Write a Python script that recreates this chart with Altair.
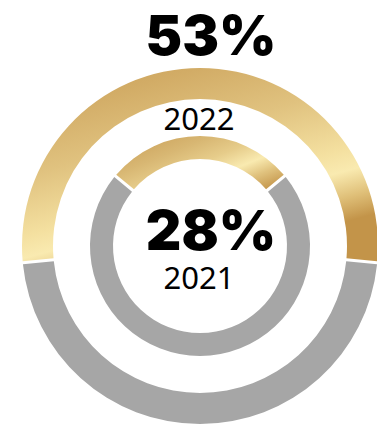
import math
import altair as alt
import pandas as pd

years = ["2022", "2021"]
shares = [53, 28]
share_labels = ["53%", "28%"]

rows = []
for yr, p in zip(years, shares):
    rows.append({"year": yr, "part": "share", "start": -p / 2, "end": p / 2})
    rows.append({"year": yr, "part": "rest", "start": p / 2, "end": 100 - p / 2})
df = pd.DataFrame(rows)

CX, CY = 192, 238
theta_scale = alt.Scale(domain=[-50, 50], range=[-math.pi, math.pi])

outer_gold = alt.LinearGradient(
    gradient="linear",
    stops=[
        alt.GradientStop(color="#c99f58", offset=0),
        alt.GradientStop(color="#d2ac66", offset=0.2),
        alt.GradientStop(color="#e0c27f", offset=0.45),
        alt.GradientStop(color="#f4e0a0", offset=0.7),
        alt.GradientStop(color="#f9eab0", offset=0.79),
        alt.GradientStop(color="#dfbf78", offset=0.9),
        alt.GradientStop(color="#c39449", offset=1),
    ],
    x1=0, y1=0, x2=0.5, y2=1,
)
inner_gold = alt.LinearGradient(
    gradient="linear",
    stops=[
        alt.GradientStop(color="#c99f58", offset=0),
        alt.GradientStop(color="#d8b773", offset=0.3),
        alt.GradientStop(color="#e6cc8a", offset=0.5),
        alt.GradientStop(color="#f9eab0", offset=0.68),
        alt.GradientStop(color="#e0c27e", offset=0.82),
        alt.GradientStop(color="#c39449", offset=1),
    ],
    x1=0, y1=0.1, x2=1, y2=0.9,
)

def ring(yr, r_out, r_in, pad, grad):
    base = alt.Chart(df).transform_filter(alt.datum.year == yr).encode(
        theta=alt.Theta("start:Q", scale=theta_scale, stack=None),
        theta2="end:Q",
        x=alt.value(CX),
        y=alt.value(CY),
    )
    g = base.transform_filter(alt.datum.part == "share").mark_arc(
        radius=r_out, radius2=r_in, padAngle=pad, fill=grad
    )
    r = base.transform_filter(alt.datum.part == "rest").mark_arc(
        radius=r_out, radius2=r_in, padAngle=pad, fill="#a6a6a6"
    )
    return g + r

tdf = pd.DataFrame({"year": years, "label": share_labels})

def txt(field, yr, y, size, weight, font):
    return alt.Chart(tdf).transform_filter(alt.datum.year == yr).mark_text(
        font=font, fontSize=size, fontWeight=weight, color="#000000",
        align="center", baseline="alphabetic"
    ).encode(text=f"{field}:N", x=alt.value(203 if field == "label" else 191), y=alt.value(y))

chart = alt.layer(
    ring("2022", 178, 147, 0.013, outer_gold),
    ring("2021", 110, 87, 0.022, inner_gold),
    txt("label", "2022", 47, 55, 900, "Inter"),
    txt("year", "2022", 122, 31, 400, "Noto Sans"),
    txt("label", "2021", 242, 55, 900, "Inter"),
    txt("year", "2021", 281, 31, 400, "Noto Sans"),
).properties(
    width=369, height=418, padding=0,
    autosize=alt.AutoSizeParams(type="none"),
).configure_view(stroke=None)

chart.save("out.html", embed_options={"renderer": "svg", "actions": False})
